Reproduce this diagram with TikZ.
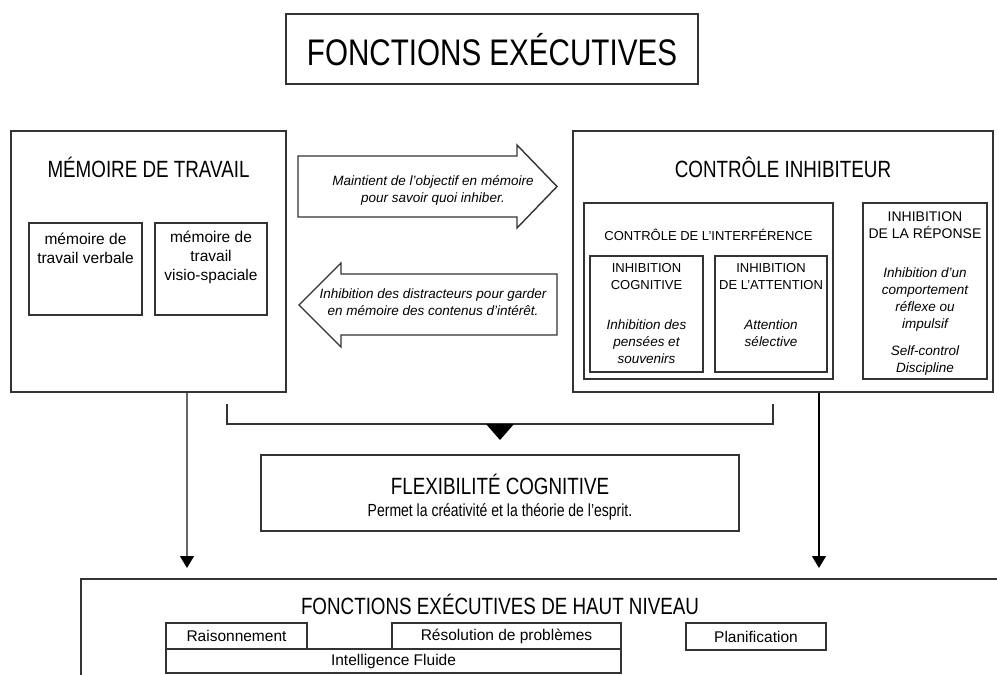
\documentclass[tikz,border=0pt]{standalone}
\usepackage{fontspec}
\setmainfont{Liberation Sans}
\newfontfamily\cond[FakeStretch=0.8]{Liberation Sans}
\usetikzlibrary{arrows.meta}
\definecolor{boxc}{HTML}{333333}
\definecolor{linec}{HTML}{666666}
\tikzset{
  box/.style={draw=boxc, line width=1.6pt, inner sep=0pt, fill=white},
  sbox/.style={draw=boxc, line width=1.3pt, inner sep=0pt},
  txt/.style={inner sep=0pt, align=center, text=black},
  conn/.style={draw=linec, line width=1.3pt, -{Triangle[width=14pt,length=12pt,fill=black,color=black]}},
  bigarrow/.style={draw=boxc, line width=1.4pt, line join=miter, fill=white},
  head/.style={txt, font=\cond\fontsize{23.5}{25}\selectfont},
  small/.style={txt, font=\fontsize{13}{16.5}\selectfont},
  ital/.style={txt, font=\itshape\fontsize{13.5}{17}\selectfont},
}
\begin{document}
\begin{tikzpicture}[x=1pt,y=-1pt]
\useasboundingbox (0,0) rectangle (997,675);
% title
\node[box, minimum width=412, minimum height=70] (title) at (492,49) {};
\node[txt, font=\cond\fontsize{37}{40}\selectfont] (titletxt) at (492,50) {FONCTIONS EXÉCUTIVES};

% memoire de travail
\node[box, minimum width=275, minimum height=261] (mem) at (148.5,261.5) {};
\node[head] (memtxt) at (148.5,167) {MÉMOIRE DE TRAVAIL};
\node[sbox, minimum width=113, minimum height=92] (mv1) at (85.5,269) {};
\node[txt, font=\fontsize{15.5}{19}\selectfont] (mv1txt) at (85.5,248) {mémoire de\\travail verbale};
\node[sbox, minimum width=112, minimum height=92] (mv2) at (211,269) {};
\node[txt, font=\fontsize{15.5}{19}\selectfont] (mv2txt) at (211,257) {mémoire de\\travail\\visio-spaciale};

% controle inhibiteur
\node[box, minimum width=420, minimum height=261] (ctrl) at (783,261.5) {};
\node[head] (ctrltxt) at (783,167) {CONTRÔLE INHIBITEUR};
\node[sbox, minimum width=249, minimum height=176] (interf) at (708.5,291) {};
\node[txt, font=\fontsize{13}{16}\selectfont] (interftxt) at (708.5,235) {CONTRÔLE DE L’INTERFÉRENCE};
\node[sbox, minimum width=113, minimum height=116] (icog) at (646.5,314) {};
\node[small] (icogh) at (646.5,276.5) {INHIBITION\\COGNITIVE};
\node[ital] (icogi) at (646.5,342) {Inhibition des\\pensées et\\souvenirs};
\node[sbox, minimum width=112, minimum height=116] (iatt) at (771,314) {};
\node[small] (iatth) at (771,276.5) {INHIBITION\\DE L’ATTENTION};
\node[ital] (iatti) at (771,333.5) {Attention\\sélective};
\node[sbox, minimum width=124, minimum height=176] (irep) at (925,291) {};
\node[txt, font=\fontsize{14}{16.5}\selectfont] (ireph) at (925,225) {INHIBITION\\DE LA RÉPONSE};
\node[ital] (irepi) at (925,300) {Inhibition d’un\\comportement\\réflexe ou\\impulsif};
\node[ital] (ireps) at (925,361) {Self-control\\Discipline};

% big arrows
\draw[bigarrow] (298,156) -- (517,156) -- (517,145) -- (557,186.5) -- (517,228) -- (517,217) -- (298,217) -- cycle;
\node[ital] (a1txt) at (433,190) {Maintient de l’objectif en mémoire\\pour savoir quoi inhiber.};
\draw[bigarrow] (557,274) -- (341,274) -- (341,263) -- (299,305) -- (341,347) -- (341,335) -- (557,335) -- cycle;
\node[ital] (a2txt) at (433,302) {Inhibition des distracteurs pour garder\\en mémoire des contenus d’intérêt.};

% bracket to flexibilite
\coordinate (b1) at (227,404);
\coordinate (b2) at (773,404);
\coordinate (bm) at (500,424);
\draw[draw=boxc, line width=1.4pt] (b1) |- (bm) -| (b2);
\fill[black] (486,424) -- (514,424) -- (500,440) -- cycle;

% flexibilite
\node[box, minimum width=478, minimum height=76] (flex) at (500,493) {};
\node[head] (flextxt) at (500,484) {FLEXIBILITÉ COGNITIVE};
\node[txt, font=\cond\fontsize{17.5}{20}\selectfont] (flexsub) at (500,512) {Permet la créativité et la théorie de l’esprit.};

% bottom
\node[box, minimum width=930, minimum height=130, anchor=north west] (haut) at (80,578) {};
\node[head] (hauttxt) at (500,604) {FONCTIONS EXÉCUTIVES DE HAUT NIVEAU};
\node[sbox, minimum width=141, minimum height=26] (rais) at (236.5,636) {};
\node[txt, font=\fontsize{15.5}{18}\selectfont] at (rais) {Raisonnement};
\node[sbox, minimum width=229, minimum height=26] (reso) at (506.5,636) {};
\node[txt, font=\fontsize{15.5}{18}\selectfont] at (reso) {Résolution de problèmes};
\node[sbox, minimum width=455, minimum height=24, fill=white] (intel) at (393.5,661) {};
\node[txt, font=\fontsize{15.5}{18}\selectfont] at (intel) {Intelligence Fluide};
\node[sbox, minimum width=140, minimum height=27] (plan) at (756,636.5) {};
\node[txt, font=\fontsize{15.5}{18}\selectfont] at (plan) {Planification};

% connectors
\coordinate (la) at (187,568);
\coordinate (ra) at (819,568);
\draw[conn] (mem.south -| la) -- (la);
\draw[conn, draw=black] (ctrl.south -| ra) -- (ra);
\end{tikzpicture}
\end{document}
